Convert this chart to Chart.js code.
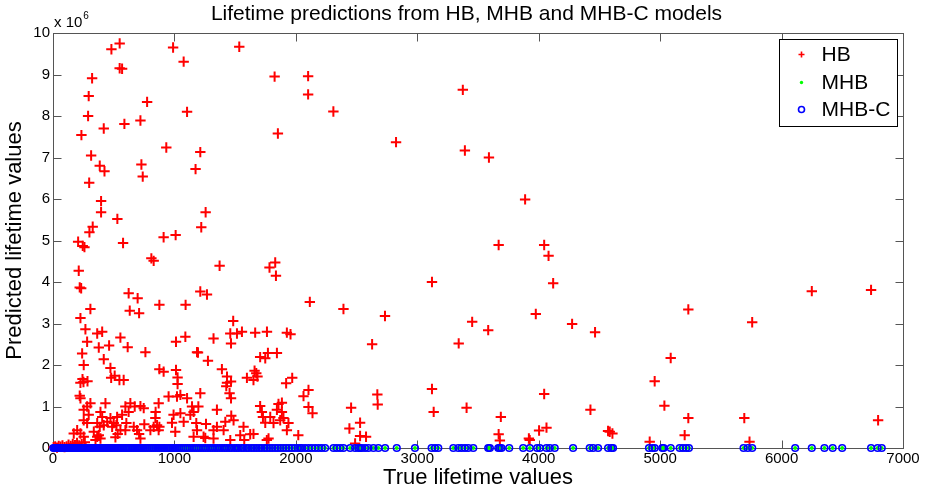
<!DOCTYPE html>
<html>
<head>
<meta charset="utf-8">
<title>Lifetime predictions from HB, MHB and MHB-C models</title>
<script src="https://cdn.jsdelivr.net/npm/chart.js@4.4.1/dist/chart.umd.min.js"></script>
<style>
  html, body { margin: 0; padding: 0; background: #fff; }
  #wrap { width: 933px; height: 492px; }
</style>
</head>
<body>
<div id="wrap"><canvas id="lifetimeChart" width="933" height="492"></canvas></div>
<script>
const chartTitle = 'Lifetime predictions from HB, MHB and MHB-C models';
const xTicks = [0, 1000, 2000, 3000, 4000, 5000, 6000, 7000];
const yTicks = [0, 1, 2, 3, 4, 5, 6, 7, 8, 9, 10]; // x 10^6

// HB: [true lifetime, predicted lifetime (x 10^6)]
const hbPoints = [
  [481,9.61],[549,9.75],[549,9.15],[569,9.14],[989,9.65],[1076,9.31],[1534,9.67],[1825,8.95],
  [322,8.91],[294,8.48],[289,8.0],[775,8.34],[1104,8.10],[234,7.54],[418,7.70],[588,7.81],[720,7.89],
  [1852,7.58],[933,7.24],[1213,7.13],[314,7.05],[385,6.80],[424,6.67],[728,6.83],[739,6.54],[1174,6.72],
  [298,6.39],[396,5.95],[396,5.68],[1257,5.68],[530,5.52],[327,5.33],[300,5.20],[1221,5.32],[911,5.08],
  [1010,5.13],[207,4.97],[245,4.87],[259,4.84],[577,4.94],
  [2101,8.96],[2101,8.52],[2309,8.11],[2825,7.37],[3375,8.63],[3392,7.17],[3590,7.0],[3888,5.99],
  [3670,4.89],[4045,4.89],[4081,4.63],[4119,3.97],[3121,4.0],[2115,3.52],[2392,3.35],[2734,3.18],
  [3976,3.23],[4275,2.99],[4464,2.79],[3452,3.04],[3584,2.84],[1956,2.74],[2628,2.50],[3341,2.52],
  [1970,1.69],[1920,1.56],[2104,1.40],[2063,1.25],[2104,0.99],[2137,0.84],[1885,1.09],[1885,0.87],
  [1898,0.72],[3121,1.42],[3135,0.87],[3406,0.97],[2671,1.29],[2674,1.05],[2455,0.97],[2441,0.47],
  [2529,0.61],[2529,0.29],[2578,0.27],[3688,0.75],[3670,0.33],[3680,0.18],[4045,1.30],[4003,0.42],
  [4064,0.49],[3919,0.23],[4426,0.92],[4571,0.41],[4585,0.39],[4607,0.35],
  [5232,3.34],[5087,2.17],[4955,1.61],[5035,1.02],[5232,0.72],[5202,0.31],[4914,0.15],[5758,3.03],
  [5693,0.72],[5736,0.15],[6249,3.78],[6737,3.81],[6795,0.67],
  [212,4.27],[220,3.87],[232,3.85],[623,3.73],[810,4.57],[829,4.51],[1372,4.39],[1783,4.35],[1830,4.47],
  [1836,4.15],[1213,3.77],[1268,3.70],[1092,3.45],[876,3.45],[697,3.61],[632,3.31],[709,3.25],[226,3.13],
  [308,3.35],[267,2.86],[364,2.76],[405,2.80],[281,2.56],[555,2.66],[615,2.43],[462,2.47],[377,2.42],
  [761,2.31],[240,2.28],[253,2.00],[243,1.66],[251,1.59],[226,1.57],[284,1.61],[418,2.14],[473,1.93],
  [479,1.69],[508,1.74],[547,1.64],[582,1.64],[876,1.90],[1013,1.88],[1026,1.70],[1026,1.54],[1194,2.30],
  [1276,2.10],[1427,1.49],[1484,3.06],[1515,2.76],[1556,2.80],[1460,2.76],[1466,2.52],[1665,2.78],
  [1762,2.80],[1706,2.19],[1748,2.16],[1770,2.29],[1844,2.29],[1926,2.78],[1660,1.86],[1674,1.80],
  [1684,1.72],[1597,1.69],[1651,1.64],[1433,1.57],[1466,1.60],[1350,0.92],[1468,0.78],[1466,1.20],
  [1454,1.32],[1542,0.31],[1569,0.51],[1624,0.33],[1706,1.01],[1720,0.87],[1729,0.75],[1748,0.61],
  [1789,0.75],[1844,0.92],[1857,1.06],[1871,0.67],[1775,0.23],[1405,0.43],[1260,0.58],[1240,0.27],
  [1322,0.23],[1197,1.00],[1158,0.87],[1076,0.63],[1049,0.84],[1021,1.24],[993,0.80],[980,0.61],
  [1007,0.39],[870,1.08],[845,0.87],[843,0.72],[857,0.55],[829,0.51],[802,0.43],[870,0.43],[876,0.51],
  [720,1.01],[747,0.96],[752,0.57],[692,0.43],[709,0.34],[720,0.23],[596,1.00],[623,0.87],[637,1.08],
  [673,1.00],[604,0.60],[596,0.43],[665,0.51],[555,0.43],[533,0.34],[514,0.26],[432,1.08],[391,0.87],
  [405,0.75],[364,0.60],[385,0.51],[418,0.55],[446,0.63],[473,0.72],[500,0.60],[528,0.75],[336,0.39],
  [364,0.27],[391,0.23],[350,0.19],[377,0.31],[281,0.60],[294,0.80],[253,0.67],[199,0.43],[226,0.35],
  [171,0.35],[253,0.27],[308,1.08],[281,1.00],[226,1.20],[220,1.26],[253,0.92],[569,0.80],[522,0.55],
  [487,0.51],[1158,0.27],[1186,0.43],[1322,0.43],[1350,0.51],[1419,0.63],[1487,0.67],[1575,0.19],
  [1651,0.34],[1816,0.60],[1939,0.60],[1926,0.43],[1322,2.64],[1090,2.68],[1013,2.56],[1186,2.31],
  [911,1.84],[952,1.24],[1049,1.28],[1104,1.20],[1145,1.00],[1131,0.80],[1180,0.60],[1213,1.32],
  [1391,1.90],[1433,1.72],
  [5,0.02],[18,0.04],[33,0.01],[47,0.05],[62,0.03],[78,0.06],[95,0.02],[112,0.04],[128,0.08],[146,0.05],
  [163,0.10],[181,0.07],[198,0.12],[215,0.06],[236,0.09],[262,0.14],[2020,0.31],[1761,0.19],[1460,0.19],
  [1254,0.24],[2488,0.11],[3926,0.19]
];

// MHB and MHB-C: true lifetimes (their predictions sit at ~0 on the 10^6 scale)
const mhbTrue = [
  3, 12, 20, 31, 38, 47, 55, 66, 74, 83, 95, 104, 112, 125, 133, 141, 152, 160, 171, 183, 190, 201,
  212, 224, 233, 241, 256, 263, 275, 288, 296, 305, 318, 327, 339, 350, 361, 372, 384, 395, 408, 419,
  431, 444, 452, 467, 478, 489, 503, 516, 528, 541, 553, 566, 579, 594, 606, 620, 633, 647, 661, 676,
  690, 704, 719, 733, 748, 764, 779, 795, 811, 826, 842, 858, 873, 890, 906, 921, 938, 955, 971, 988,
  1004, 1021, 1038, 1056, 1073, 1091, 1108, 1126, 1145, 1163, 1181, 1200, 1218, 1237, 1256, 1276,
  1295, 1314, 1334, 1352, 1373, 1392, 1412, 1431, 1451, 1470, 1492, 1511, 1530, 1552, 1571, 1593,
  1612, 1634, 1655, 1676, 1697, 1718, 1741, 1762, 1785, 1806, 1829, 1851, 1874, 1897, 1920, 1943,
  1966, 1990, 2015, 2035, 2049, 2076, 2104, 2131, 2159, 2186, 2213, 2241, 2310, 2337, 2365, 2392,
  2447, 2488, 2515, 2529, 2543, 2570, 2598, 2639, 2680, 2735, 2831, 2981, 3118, 3146, 3173, 3297,
  3338, 3365, 3393, 3420, 3461, 3584, 3598, 3667, 3680, 3694, 3757, 3872, 3927, 3987, 4009, 4064,
  4091, 4132, 4283, 4420, 4448, 4489, 4571, 4599, 4612, 4908, 4936, 4955, 5018, 5029, 5087, 5161,
  5188, 5215, 5237, 5687, 5722, 5758, 6112, 6249, 6353, 6421, 6499, 6737, 6791, 6825
];
const mhbPred = 0;
const mhbcPred = 0;

const seriesNames = ['HB', 'MHB', 'MHB-C'];
const FONT = "'Liberation Sans', Arial, Helvetica, sans-serif";

Chart.defaults.font.family = FONT;
Chart.defaults.color = '#000';

const matlabAxes = {
  id: 'matlabAxes',
  beforeDatasetsDraw(chart) {
    const { ctx, chartArea: a, scales: { x, y } } = chart;
    const L = Math.round(a.left) + 0.5, R = Math.round(a.right) + 0.5;
    const T = Math.round(a.top) + 0.5, B = Math.round(a.bottom) + 0.5;
    const len = 8;
    ctx.save();
    ctx.strokeStyle = '#555';
    ctx.lineWidth = 1;
    ctx.strokeRect(L, T, R - L, B - T);
    ctx.beginPath();
    xTicks.forEach(v => {
      const px = Math.round(x.getPixelForValue(v)) + 0.5;
      ctx.moveTo(px, B); ctx.lineTo(px, B - len);
      ctx.moveTo(px, T); ctx.lineTo(px, T + len);
    });
    yTicks.forEach(v => {
      const py = Math.round(y.getPixelForValue(v)) + 0.5;
      ctx.moveTo(L, py); ctx.lineTo(L + len, py);
      ctx.moveTo(R, py); ctx.lineTo(R - len, py);
    });
    ctx.stroke();

    // title, centred on the whole figure
    ctx.fillStyle = '#000';
    ctx.textAlign = 'center';
    ctx.textBaseline = 'middle';
    ctx.font = '21px ' + FONT;
    ctx.fillText(chartTitle, chart.width / 2, 14);

    // exponent label
    ctx.textAlign = 'left';
    ctx.textBaseline = 'alphabetic';
    ctx.font = '15px ' + FONT;
    ctx.fillText('x 10', a.left + 1, a.top - 6);
    const w = ctx.measureText('x 10').width;
    ctx.font = '10px ' + FONT;
    ctx.fillText('6', a.left + 2 + w, a.top - 14);
    ctx.restore();
  },
  afterDraw(chart) {
    const { ctx, chartArea: a } = chart;
    const bw = 118, bh = 87;
    const bx = Math.round(a.right - 6 - bw) + 0.5, by = Math.round(a.top + 6) + 0.5;
    ctx.save();
    ctx.fillStyle = '#fff';
    ctx.fillRect(bx, by, bw, bh);
    ctx.strokeStyle = '#000';
    ctx.lineWidth = 1;
    ctx.strokeRect(bx, by, bw, bh);
    const mx = bx + 22, tx = bx + 42;
    const rows = [by + 15, by + 43, by + 70];
    // HB marker
    ctx.strokeStyle = '#ff0000';
    ctx.lineWidth = 1.6;
    ctx.beginPath();
    ctx.moveTo(mx - 3, rows[0]); ctx.lineTo(mx + 3, rows[0]);
    ctx.moveTo(mx, rows[0] - 3); ctx.lineTo(mx, rows[0] + 3);
    ctx.stroke();
    // MHB marker
    ctx.fillStyle = '#00ff00';
    ctx.beginPath();
    ctx.arc(mx, rows[1], 1.7, 0, Math.PI * 2);
    ctx.fill();
    // MHB-C marker
    ctx.strokeStyle = '#0000ff';
    ctx.beginPath();
    ctx.arc(mx, rows[2], 3, 0, Math.PI * 2);
    ctx.stroke();
    ctx.fillStyle = '#000';
    ctx.font = '21px ' + FONT;
    ctx.textBaseline = 'middle';
    seriesNames.forEach((n, i) => ctx.fillText(n, tx, rows[i] + 1));
    ctx.restore();
  }
};

new Chart(document.getElementById('lifetimeChart'), {
  type: 'scatter',
  data: {
    datasets: [
      {
        label: seriesNames[0],
        data: hbPoints.map(p => ({ x: p[0], y: p[1] })),
        pointStyle: 'cross',
        pointRadius: 5.2,
        borderWidth: 2,
        borderColor: '#ff0000',
        backgroundColor: '#ff0000',
        clip: false,
        order: 3
      },
      {
        label: seriesNames[1],
        data: mhbTrue.map(v => ({ x: v, y: mhbPred })),
        pointStyle: 'circle',
        pointRadius: 1.9,
        borderWidth: 0,
        backgroundColor: '#00ff00',
        clip: false,
        order: 2
      },
      {
        label: seriesNames[2],
        data: mhbTrue.map(v => ({ x: v, y: mhbcPred })),
        pointStyle: 'circle',
        pointRadius: 3.3,
        borderWidth: 1.6,
        borderColor: '#0000ff',
        backgroundColor: 'rgba(0,0,0,0)',
        clip: false,
        order: 1
      }
    ]
  },
  options: {
    responsive: false,
    animation: false,
    events: [],
    layout: { padding: { left: 0, right: 30, top: 33, bottom: 0 } },
    plugins: {
      legend: { display: false },
      tooltip: { enabled: false },
      title: { display: false }
    },
    scales: {
      x: {
        type: 'linear',
        min: 0,
        max: 7000,
        afterFit: s => { s.height = 44; },
        afterBuildTicks: s => { s.ticks = xTicks.map(v => ({ value: v })); },
        grid: { display: false, drawTicks: false },
        border: { display: false },
        ticks: { font: { size: 15 }, color: '#000', padding: 2, maxRotation: 0, callback: v => String(v) },
        title: { display: true, text: 'True lifetime values', font: { size: 22 }, color: '#000', padding: { top: 0, bottom: 1 } }
      },
      y: {
        type: 'linear',
        min: 0,
        max: 10,
        afterFit: s => { s.width = 53; },
        afterBuildTicks: s => { s.ticks = yTicks.map(v => ({ value: v })); },
        grid: { display: false, drawTicks: false },
        border: { display: false },
        ticks: { font: { size: 15 }, color: '#000', padding: 3, callback: v => String(v) },
        title: { display: true, text: 'Predicted lifetime values', font: { size: 22 }, color: '#000', padding: { top: 2, bottom: 0 } }
      }
    }
  },
  plugins: [matlabAxes]
});
</script>
</body>
</html>
